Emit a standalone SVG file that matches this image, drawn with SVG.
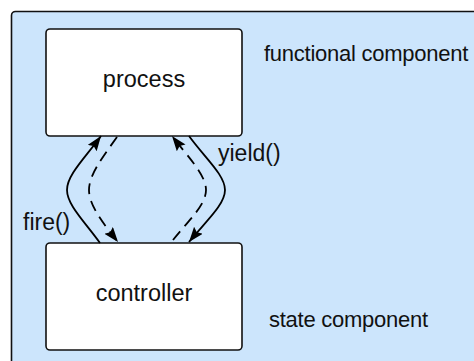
<svg xmlns="http://www.w3.org/2000/svg" width="474" height="361" viewBox="0 0 474 361">
<style>
text{font-family:"Liberation Sans",Arial,sans-serif;font-size:23px;fill:#111}
.lbl{font-size:22px;letter-spacing:-0.25px}
.box{fill:#fff;stroke:#111;stroke-width:1.6}
.c{fill:none;stroke:#000;stroke-width:1.8}
.d{stroke-dasharray:11,7}
</style>
<defs>
<marker id="ah" markerUnits="userSpaceOnUse" markerWidth="16" markerHeight="12" refX="15" refY="5.5" orient="auto">
<path d="M0,0 L15,5.5 L0,11 L2.5,5.5 z" fill="#000"/>
</marker>
</defs>
<g id="container">
<rect x="11.5" y="11.5" width="470" height="360" rx="4" fill="#cce5fc" stroke="#111" stroke-width="1.6"/>
<text class="lbl" x="264" y="61">functional component</text>
<text class="lbl" x="269" y="327">state component</text>
</g>
<g id="process">
<rect class="box" x="46" y="29" width="196" height="107" rx="4"/>
<text x="144" y="87" text-anchor="middle" style="font-size:23.5px">process</text>
</g>
<g id="controller">
<rect class="box" x="46" y="243" width="196" height="107" rx="4"/>
<text x="144" y="301" text-anchor="middle" style="font-size:23.5px">controller</text>
</g>
<g id="connectors">
<path class="c" d="M100,243 C85,222 67,205 67,190 C67,175 85,158 101,136" marker-end="url(#ah)"/>
<path class="c d" d="M117,137 C102,158 89,175 89,190 C89,205 102,222 118,242" marker-end="url(#ah)"/>
<path class="c d" d="M173,240 C189,220 206,205 206,190 C206,175 189,158 172,136" marker-end="url(#ah)"/>
<path class="c" d="M189,136 C205,158 225,175 225,190 C225,205 205,222 189,242" marker-end="url(#ah)"/>
<text x="218" y="161">yield()</text>
<text x="23" y="230">fire()</text>
</g>
</svg>
